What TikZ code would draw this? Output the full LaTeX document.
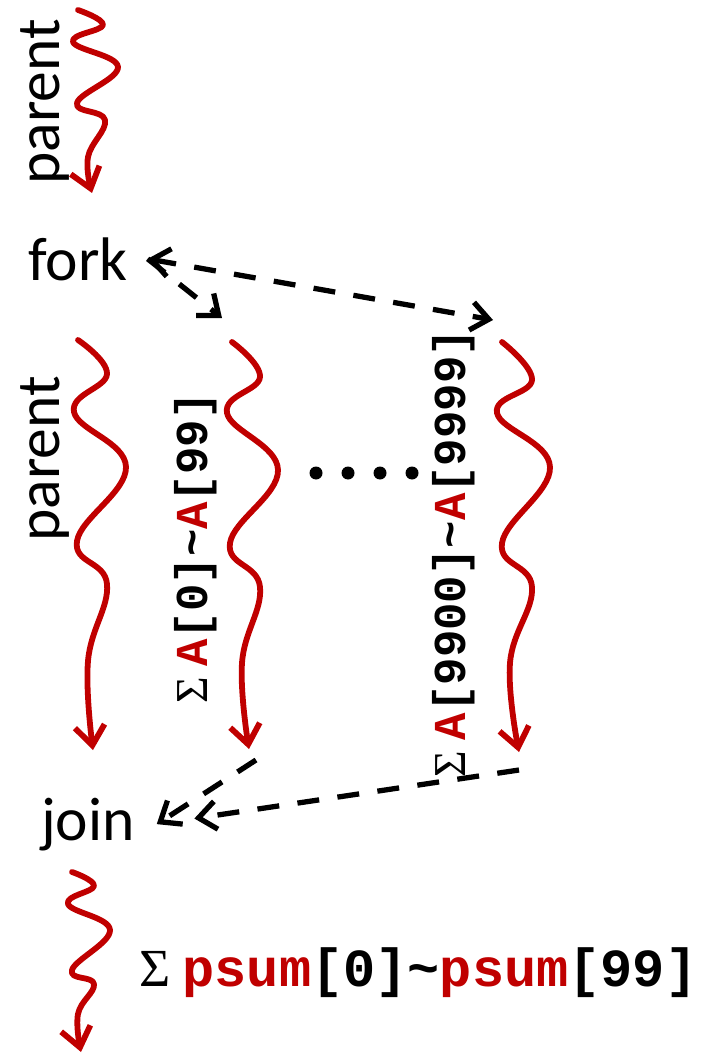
\documentclass[tikz,border=0pt]{standalone}
\usepackage{fontspec}
\usepackage{xcolor}
\setmainfont{Carlito}
\newfontfamily\codefont{Liberation Mono}
\newfontfamily\sigmafont{Liberation Serif}
\usetikzlibrary{arrows.meta, positioning}
\definecolor{threadRed}{RGB}{192, 0, 0}
\newcommand{\redcode}[1]{\textcolor{threadRed}{#1}}

\begin{document}
\begin{tikzpicture}[
        x=0.02cm, y=-0.02cm,
        word/.style={font=\fontsize{35}{42}\selectfont, inner sep=0pt},
        sumtext/.style={font=\fontsize{26}{31}\selectfont, inner sep=0pt},
        thread/.style={threadRed, line width=3.3pt, line cap=round, line join=round, -{Straight Barb[length=11pt, width=17pt]}},
        sync/.style={line width=3pt, dash pattern=on 12.5pt off 10.5pt}
    ]
        \useasboundingbox (0,0) rectangle (705,1054);

        % Parent before the fork
        \node[word, rotate=90] (parentA) at (45,102) {parent};
        \draw[thread, shift={(78,10)}] plot[smooth, tension=0.7] coordinates {(0,0) (25,15) (-5,32) (40,57) (-1,93) (27,110) (10,147) (14,183)};

        % Fork
        \node[word, anchor=base, outer xsep=0.4cm, outer ysep=0pt] (fork) at (78,280) {fork};
        \coordinate (c1top) at (222,318);
        \coordinate (c2top) at (493,320);
        \draw[sync, {Straight Barb[length=10pt, width=16pt]}-{Straight Barb[length=10pt, width=16pt]}] (fork.east) -- (c2top);
        \draw[sync, -{Straight Barb[length=10pt, width=16pt]}] (fork.east) -- (c1top);

        % Parent and children
        \node[word, rotate=90] (parentB) at (45,459) {parent};
        \draw[thread, shift={(78,340)}] plot[smooth, tension=0.7] coordinates {(0,0) (29,34) (-4,72) (48,127) (-1,201) (29,244) (10,321) (15,410)};
        \draw[thread, shift={(232,342)}] plot[smooth, tension=0.7] coordinates {(0,0) (28,35) (-5,71) (46,128) (-2,201) (28,245) (10,321) (17,407)};
        \draw[thread, shift={(502,342)}] plot[smooth, tension=0.7] coordinates {(0,0) (30,38) (-5,71) (48,125) (0,201) (30,245) (8,321) (17,410)};

        \node[sumtext, rotate=90] (sum1) at (196,548) {{\sigmafont Σ} {\codefont\bfseries\redcode{A}[0]\textasciitilde\redcode{A}[99]}};
        \node[sumtext, rotate=90] (sum2) at (454,553) {{\sigmafont Σ} {\codefont\bfseries\redcode{A}[9900]\textasciitilde\redcode{A}[9999]}};

        \foreach \x in {316,348,380,412}
            \fill (\x,473) circle (0.13cm);

        % Join
        \node[word, anchor=base, outer xsep=0.44cm, outer ysep=0pt] (join) at (88,840) {join};
        \coordinate (c1end) at (256,760);
        \coordinate (c2end) at (519,770);
        \draw[sync, -{Straight Barb[length=10pt, width=16pt]}] (c1end) -- (join.east);
        \draw[sync, -{Straight Barb[length=10pt, width=16pt]}, shorten >=0.76cm] (c2end) -- (join.east);

        % Parent after the join
        \draw[thread, shift={(72,872)}] plot[smooth, tension=0.7] coordinates {(0,0) (22,14) (-4,32) (38,58) (0,98) (22,112) (6,142) (9,180)};
        \node[sumtext, font=\fontsize{30.5}{36}\selectfont, anchor=base west] (total) at (139,986) {{\sigmafont Σ} {\codefont\bfseries\redcode{psum}[0]\textasciitilde\redcode{psum}[99]}};
    \end{tikzpicture}
\end{document}
